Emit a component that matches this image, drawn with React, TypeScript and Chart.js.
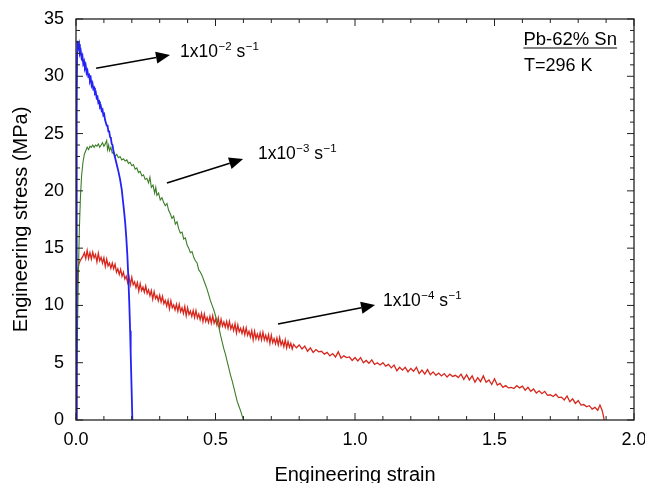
import React, { useEffect, useRef } from "react";
import { Chart, registerables } from "chart.js";

Chart.register(...registerables);

const FONT = '"Liberation Sans", Arial, Helvetica, sans-serif';

const xTickLabels = ["0.0", "0.5", "1.0", "1.5", "2.0"];
const yTickLabels = ["0", "5", "10", "15", "20", "25", "30", "35"];

// strain-rate 1x10^-2 s^-1
const blueCurve: [number, number][] = [
  [0, 0], [0.002, 18], [0.003, 27], [0.004, 32], [0.005, 33.1], [0.008, 32.5], [0.011, 32.8], [0.014, 32.0],
  [0.017, 32.2], [0.02, 31.6], [0.023, 31.8], [0.026, 31.1], [0.029, 31.3], [0.032, 30.7], [0.035, 30.9],
  [0.038, 30.3], [0.041, 30.5], [0.044, 30.0], [0.047, 30.1], [0.05, 29.6], [0.053, 29.8], [0.056, 29.2],
  [0.059, 29.4], [0.062, 28.9], [0.065, 29.0], [0.068, 28.5], [0.071, 28.6], [0.074, 28.1], [0.077, 28.2],
  [0.08, 27.7], [0.083, 27.8], [0.086, 27.3], [0.089, 27.4], [0.092, 27.0], [0.095, 27.1], [0.098, 26.6],
  [0.101, 26.7], [0.104, 26.2], [0.107, 26.2], [0.11, 25.7], [0.113, 25.7], [0.116, 25.2], [0.119, 25.2],
  [0.122, 24.7], [0.125, 24.6], [0.128, 24.1], [0.131, 24.0], [0.134, 23.5], [0.14, 22.9], [0.146, 22.3],
  [0.152, 21.7], [0.158, 21.0], [0.164, 20.1], [0.168, 19.2], [0.172, 18.3], [0.176, 17.3], [0.18, 16.0],
  [0.184, 14.4], [0.188, 12.2], [0.191, 10.2], [0.194, 7.8], [0.196, 5.8], [0.199, 3.0], [0.202, 0],
];

// strain-rate 1x10^-3 s^-1
const greenCurve: [number, number][] = [
  [0, 0], [0.004, 6], [0.008, 12], [0.012, 16.6], [0.016, 19.5], [0.02, 21.3], [0.025, 22.5], [0.03, 23.2],
  [0.035, 23.5], [0.04, 23.8], [0.045, 23.6], [0.05, 23.9], [0.055, 23.8], [0.06, 24.0], [0.065, 23.8],
  [0.07, 24.0], [0.075, 23.9], [0.08, 24.1], [0.085, 23.8], [0.09, 24.0], [0.095, 24.2], [0.1, 23.9],
  [0.105, 24.1], [0.11, 24.4], [0.113, 23.6], [0.117, 24.0], [0.12, 23.5], [0.125, 23.8], [0.13, 23.3],
  [0.135, 23.4], [0.14, 23.0], [0.146, 23.2], [0.152, 22.9], [0.158, 23.0], [0.164, 22.7], [0.17, 22.8],
  [0.176, 22.6], [0.182, 22.7], [0.188, 22.4], [0.194, 22.5], [0.2, 22.2], [0.206, 22.3], [0.212, 21.9],
  [0.218, 22.0], [0.224, 21.6], [0.23, 21.7], [0.236, 21.3], [0.242, 21.4], [0.248, 21.0], [0.254, 21.1],
  [0.26, 20.7], [0.265, 21.2], [0.27, 20.3], [0.276, 20.5], [0.282, 19.8], [0.286, 20.3], [0.29, 19.6],
  [0.296, 19.8], [0.302, 19.2], [0.308, 19.4], [0.314, 19.0], [0.32, 18.7], [0.326, 18.9], [0.332, 18.3],
  [0.338, 18.0], [0.344, 17.6], [0.35, 17.8], [0.356, 17.1], [0.362, 17.3], [0.368, 16.7], [0.374, 16.3],
  [0.38, 16.4], [0.386, 15.8], [0.392, 15.9], [0.398, 15.3], [0.404, 15.0], [0.41, 14.6], [0.416, 14.7],
  [0.422, 14.2], [0.428, 13.9], [0.434, 13.7], [0.44, 13.1], [0.446, 12.9], [0.452, 12.6], [0.458, 12.2],
  [0.464, 11.8], [0.47, 11.4], [0.476, 10.9], [0.482, 10.4], [0.488, 10.0], [0.494, 9.6], [0.5, 9.1],
  [0.506, 8.6], [0.512, 8.1], [0.518, 7.4], [0.524, 6.8], [0.53, 6.2], [0.536, 5.7], [0.542, 5.1],
  [0.548, 4.5], [0.554, 3.9], [0.56, 3.4], [0.566, 2.8], [0.572, 2.2], [0.578, 1.6], [0.584, 1.2],
  [0.59, 0.8], [0.595, 0.4], [0.6, 0],
];

// strain-rate 1x10^-4 s^-1
const redCurve: [number, number][] = [
  [0, 0], [0.002, 4.0], [0.003, 9.0], [0.004, 12.0], [0.006, 13.0], [0.01, 13.6], [0.015, 13.9], [0.02, 14.1],
  [0.025, 14.3], [0.03, 14.6], [0.035, 14.1], [0.04, 14.8], [0.045, 14.1], [0.05, 14.6], [0.055, 14.05],
  [0.06, 14.65], [0.065, 14.15], [0.07, 14.45], [0.075, 13.8], [0.08, 14.55], [0.085, 13.9], [0.09, 14.2],
  [0.095, 13.7], [0.1, 14.15], [0.105, 13.4], [0.11, 14.05], [0.115, 13.45], [0.12, 13.7], [0.125, 13.25],
  [0.13, 13.7], [0.135, 13.2], [0.14, 13.6], [0.145, 12.9], [0.15, 13.2], [0.155, 12.7], [0.16, 13.15],
  [0.165, 12.55], [0.17, 12.9], [0.175, 12.3], [0.18, 12.55], [0.185, 12.0], [0.19, 12.5], [0.195, 11.8],
  [0.2, 12.45], [0.205, 11.8], [0.21, 12.05], [0.215, 11.55], [0.22, 12.0], [0.225, 11.25], [0.23, 11.9],
  [0.235, 11.3], [0.24, 11.6], [0.245, 11.15], [0.25, 11.7], [0.255, 11.05], [0.26, 11.35], [0.265, 10.85],
  [0.27, 11.3], [0.275, 10.55], [0.28, 11.2], [0.285, 10.6], [0.29, 10.85], [0.295, 10.4], [0.3, 10.9],
  [0.305, 10.3], [0.31, 10.8], [0.315, 10.15], [0.32, 10.45], [0.325, 9.95], [0.33, 10.45], [0.335, 9.7],
  [0.34, 10.4], [0.345, 9.8], [0.35, 10.05], [0.355, 9.6], [0.36, 10.1], [0.365, 9.5], [0.37, 10.1],
  [0.375, 9.45], [0.38, 9.8], [0.385, 9.3], [0.39, 9.9], [0.395, 9.1], [0.4, 9.8], [0.405, 9.2], [0.41, 9.5],
  [0.415, 9.05], [0.42, 9.55], [0.425, 8.95], [0.43, 9.55], [0.435, 8.9], [0.44, 9.25], [0.445, 8.75],
  [0.45, 9.3], [0.455, 8.6], [0.46, 9.25], [0.465, 8.6], [0.47, 8.95], [0.475, 8.5], [0.48, 9.05],
  [0.485, 8.45], [0.49, 9.1], [0.495, 8.45], [0.5, 8.8], [0.505, 8.3], [0.51, 8.9], [0.515, 8.1],
  [0.52, 8.8], [0.525, 8.2], [0.53, 8.55], [0.535, 8.1], [0.54, 8.6], [0.545, 8.0], [0.55, 8.6],
  [0.555, 7.95], [0.56, 8.3], [0.565, 7.8], [0.57, 8.4], [0.575, 7.6], [0.58, 8.3], [0.585, 7.7],
  [0.59, 8.0], [0.595, 7.55], [0.6, 8.05], [0.605, 7.45], [0.61, 8.05], [0.615, 7.4], [0.62, 7.75],
  [0.625, 7.25], [0.63, 7.8], [0.635, 7.0], [0.64, 7.75], [0.645, 7.1], [0.65, 7.5], [0.655, 7.05],
  [0.66, 7.6], [0.665, 7.0], [0.67, 7.65], [0.675, 7.0], [0.68, 7.4], [0.685, 6.9], [0.69, 7.45],
  [0.695, 6.7], [0.7, 7.4], [0.705, 6.75], [0.71, 7.1], [0.715, 6.65], [0.72, 7.15], [0.725, 6.55],
  [0.73, 7.2], [0.735, 6.55], [0.74, 6.9], [0.745, 6.4], [0.75, 7.0], [0.755, 6.3], [0.76, 6.85],
  [0.765, 6.35], [0.77, 6.7], [0.775, 6.2], [0.78, 6.6], [0.79, 6.3], [0.8, 6.55], [0.81, 6.2], [0.82, 6.45],
  [0.83, 6.0], [0.84, 6.3], [0.85, 5.9], [0.86, 6.15], [0.87, 5.95], [0.88, 6.0], [0.89, 5.75], [0.9, 5.9],
  [0.91, 5.6], [0.92, 5.8], [0.93, 5.5], [0.94, 5.95], [0.95, 5.4], [0.96, 5.6], [0.97, 5.45], [0.98, 5.5],
  [0.99, 5.2], [1.0, 5.45], [1.01, 5.15], [1.02, 5.45], [1.03, 5.0], [1.04, 5.2], [1.05, 4.95], [1.06, 5.25],
  [1.07, 4.85], [1.08, 5.0], [1.09, 4.8], [1.1, 5.0], [1.11, 4.7], [1.12, 4.85], [1.13, 4.55], [1.14, 4.8],
  [1.15, 4.3], [1.16, 4.6], [1.17, 4.35], [1.18, 4.6], [1.19, 4.2], [1.2, 4.5], [1.21, 4.25], [1.22, 4.6],
  [1.23, 4.05], [1.24, 4.35], [1.25, 4.0], [1.26, 4.4], [1.27, 3.95], [1.28, 4.2], [1.29, 3.9], [1.3, 4.1],
  [1.31, 3.85], [1.32, 4.05], [1.33, 3.75], [1.34, 4.0], [1.35, 3.8], [1.36, 3.9], [1.37, 3.7], [1.38, 4.0],
  [1.39, 3.55], [1.4, 3.95], [1.41, 3.5], [1.42, 3.85], [1.43, 3.3], [1.44, 3.7], [1.45, 3.35], [1.46, 3.85],
  [1.47, 3.3], [1.48, 3.5], [1.49, 3.1], [1.5, 3.6], [1.51, 3.05], [1.52, 3.2], [1.53, 2.85], [1.54, 3.0],
  [1.55, 2.8], [1.56, 2.85], [1.57, 2.75], [1.58, 3.0], [1.59, 2.8], [1.6, 2.95], [1.61, 2.6], [1.62, 2.85],
  [1.63, 2.5], [1.64, 2.7], [1.65, 2.35], [1.66, 2.55], [1.67, 2.3], [1.68, 2.5], [1.69, 2.15], [1.7, 2.2],
  [1.71, 2.05], [1.72, 2.25], [1.73, 1.95], [1.74, 2.0], [1.75, 1.75], [1.76, 2.1], [1.77, 1.6], [1.78, 1.85],
  [1.79, 1.45], [1.8, 1.7], [1.81, 1.3], [1.82, 1.35], [1.83, 1.15], [1.84, 1.25], [1.85, 0.95], [1.86, 1.1],
  [1.87, 0.85], [1.878, 1.3], [1.885, 0.9], [1.89, 0.4], [1.893, 0],
];

// annotation arrows: [fromStrain, fromStress, toStrain, toStress]
const arrows: [number, number, number, number][] = [
  [0.072, 30.7, 0.337, 31.85],
  [0.326, 20.68, 0.599, 22.77],
  [0.724, 8.38, 1.072, 10.03],
];
// rate labels: [strain, stress(baseline), exponent]
const rateLabels: [number, number, string][] = [
  [0.373, 31.65, "\u22122"],
  [0.652, 22.75, "\u22123"],
  [1.1, 9.95, "\u22124"],
];
const materialLabel = "Pb-62% Sn";
const tempLabel = "T=296 K";

const toXY = (arr: [number, number][]) => arr.map(([x, y]) => ({ x, y }));

const framePlugin = {
  id: "frameAndNotes",
  afterDatasetsDraw(chart: any) {
    const { ctx, chartArea, scales } = chart;
    const xs = scales.x;
    const ys = scales.y;
    const { left, right, top, bottom } = chartArea;
    ctx.save();
    ctx.strokeStyle = "#222";
    ctx.lineWidth = 1.3;
    ctx.strokeRect(left, top, right - left, bottom - top);
    ctx.lineWidth = 1;
    ctx.beginPath();
    for (let i = 0; i <= 20; i++) {
      const px = xs.getPixelForValue(i / 10);
      const len = i % 5 === 0 ? 7 : 4;
      ctx.moveTo(px, bottom);
      ctx.lineTo(px, bottom - len);
      ctx.moveTo(px, top);
      ctx.lineTo(px, top + len);
    }
    for (let j = 0; j <= 35; j++) {
      const py = ys.getPixelForValue(j);
      const len = j % 5 === 0 ? 7 : 4;
      ctx.moveTo(left, py);
      ctx.lineTo(left + len, py);
      ctx.moveTo(right, py);
      ctx.lineTo(right - len, py);
    }
    ctx.stroke();

    // arrows
    ctx.strokeStyle = "#000";
    ctx.fillStyle = "#000";
    arrows.forEach(([x0, y0, x1, y1]) => {
      const ax = xs.getPixelForValue(x0);
      const ay = ys.getPixelForValue(y0);
      const bx = xs.getPixelForValue(x1);
      const by = ys.getPixelForValue(y1);
      const ang = Math.atan2(by - ay, bx - ax);
      const hl = 14;
      const hw = 6;
      const cx = bx - hl * Math.cos(ang);
      const cy = by - hl * Math.sin(ang);
      ctx.lineWidth = 1.6;
      ctx.beginPath();
      ctx.moveTo(ax, ay);
      ctx.lineTo(cx, cy);
      ctx.stroke();
      ctx.beginPath();
      ctx.moveTo(bx, by);
      ctx.lineTo(cx + hw * Math.sin(ang), cy - hw * Math.cos(ang));
      ctx.lineTo(cx - hw * Math.sin(ang), cy + hw * Math.cos(ang));
      ctx.closePath();
      ctx.fill();
    });

    // rate labels with superscripts
    ctx.textBaseline = "alphabetic";
    ctx.textAlign = "left";
    const big = `17.5px ${FONT}`;
    const small = `11.5px ${FONT}`;
    rateLabels.forEach(([sx, sy, ex]) => {
      let px = xs.getPixelForValue(sx);
      const py = ys.getPixelForValue(sy);
      ctx.font = big;
      ctx.fillText("1x10", px, py);
      px += ctx.measureText("1x10").width + 0.5;
      ctx.font = small;
      ctx.fillText(ex, px, py - 7);
      px += ctx.measureText(ex).width;
      ctx.font = big;
      ctx.fillText(" s", px, py);
      px += ctx.measureText(" s").width + 0.5;
      ctx.font = small;
      ctx.fillText("\u22121", px, py - 7);
    });

    // material / temperature
    ctx.font = `18.5px ${FONT}`;
    const mx = xs.getPixelForValue(1.939);
    const my = ys.getPixelForValue(32.73);
    ctx.textAlign = "right";
    ctx.fillText(materialLabel, mx, my);
    const mw = ctx.measureText(materialLabel).width;
    ctx.lineWidth = 1;
    ctx.beginPath();
    ctx.moveTo(mx - mw, my + 3);
    ctx.lineTo(mx, my + 3);
    ctx.stroke();
    ctx.textAlign = "left";
    ctx.font = `18px ${FONT}`;
    ctx.fillText(tempLabel, xs.getPixelForValue(1.606), ys.getPixelForValue(30.46));
    ctx.restore();
  },
};

export default function App() {
  const ref = useRef<HTMLCanvasElement | null>(null);
  useEffect(() => {
    document.body.style.margin = "0";
    const canvas = ref.current;
    if (!canvas) return;
    const chart = new Chart(canvas, {
      type: "line",
      data: {
        datasets: [
          { label: "1e-2", data: toXY(blueCurve), borderColor: "rgb(35,35,245)", borderWidth: 1.8, pointRadius: 0, tension: 0 },
          { label: "1e-3", data: toXY(greenCurve), borderColor: "rgb(60,125,40)", borderWidth: 1.1, pointRadius: 0, tension: 0 },
          { label: "1e-4", data: toXY(redCurve), borderColor: "rgb(215,38,28)", borderWidth: 1.3, pointRadius: 0, tension: 0 },
        ],
      },
      options: {
        animation: false,
        responsive: false,
        devicePixelRatio: 1,
        layout: { padding: { top: 19, right: 11, left: 0, bottom: 0 } },
        plugins: { legend: { display: false }, tooltip: { enabled: false } },
        scales: {
          x: {
            type: "linear",
            min: 0,
            max: 2,
            grid: { display: false, drawTicks: false },
            border: { display: false },
            ticks: {
              stepSize: 0.5,
              padding: 9,
              maxRotation: 0,
              color: "#000",
              font: { family: FONT, size: 18 },
              callback: (v: any) => xTickLabels[Math.round(Number(v) * 2)] ?? "",
            },
            title: {
              display: true,
              text: "Engineering strain",
              color: "#000",
              font: { family: FONT, size: 20 },
              padding: { top: 0, bottom: -4 },
            },
            afterFit: (s: any) => {
              s.height = 63;
              s.paddingLeft = 0;
              s.paddingRight = 0;
            },
          },
          y: {
            min: 0,
            max: 35,
            grid: { display: false, drawTicks: false },
            border: { display: false },
            ticks: {
              stepSize: 5,
              padding: 12,
              color: "#000",
              font: { family: FONT, size: 18 },
              callback: (v: any) => yTickLabels[Math.round(Number(v) / 5)] ?? "",
            },
            title: {
              display: true,
              text: "Engineering stress (MPa)",
              color: "#000",
              font: { family: FONT, size: 20 },
              padding: { top: 9, bottom: 0 },
            },
            afterFit: (s: any) => {
              s.width = 76;
              s.paddingTop = 0;
              s.paddingBottom = 0;
            },
          },
        },
      },
      plugins: [framePlugin],
    });
    return () => chart.destroy();
  }, []);
  return (
    <div style={{ width: 645, height: 483, background: "#fff" }}>
      <canvas ref={ref} width={645} height={483} style={{ width: 645, height: 483, display: "block" }} />
    </div>
  );
}
